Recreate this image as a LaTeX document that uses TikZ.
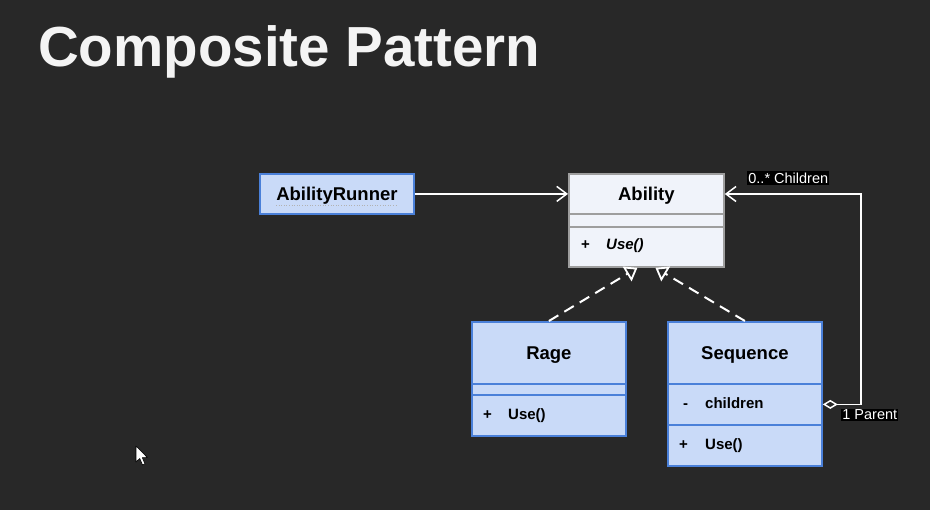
\documentclass[tikz,border=0pt]{standalone}
\usepackage{fontspec}
\setmainfont{Liberation Sans}
\usetikzlibrary{arrows.meta}
\definecolor{bg}{HTML}{282828}
\definecolor{boxfill}{HTML}{C9DAF8}
\definecolor{boxline}{HTML}{4A80D9}
\definecolor{absfill}{HTML}{F0F3FA}
\definecolor{absline}{HTML}{9E9E9E}
\definecolor{titlecol}{HTML}{F4F4F4}
\begin{document}
\begin{tikzpicture}[x=1pt,y=-1pt,
  compart/.style={rectangle,draw=boxline,fill=boxfill,line width=1.8pt,inner sep=0pt,
    anchor=north west,minimum width=154pt,text height=14pt,text depth=0pt,
    font=\fontsize{18.5}{22}\selectfont\bfseries},
  abscompart/.style={compart,draw=absline,fill=absfill},
  member/.style={anchor=base west,inner sep=0pt,font=\fontsize{15}{18}\selectfont\bfseries},
  assoc/.style={draw=white,line width=1.5pt,-{Straight Barb[length=10pt,width=15pt]}},
  realize/.style={draw=white,line width=2pt,dash pattern=on 11pt off 7pt,
    -{Triangle[open,length=12pt,width=17pt,line width=1.8pt]}},
  rolelabel/.style={fill=black,text=white,inner sep=1.2pt,font=\fontsize{14.5}{17}\selectfont}
]
\useasboundingbox[fill=bg] (0,0) rectangle (930,510);

% title
\node[anchor=base west,inner sep=0pt,text=titlecol,font=\fontsize{56.5}{64}\selectfont\bfseries]
  (title) at (38,67) {Composite Pattern};

% AbilityRunner
\node[compart,minimum width=154pt,minimum height=40pt] (runner) at (259,173) {AbilityRunner};
\draw[gray!60,line width=0.6pt,dotted] (276,205) -- (397,205);

% Ability
\node[abscompart,minimum width=155pt,minimum height=40pt] (ahead) at (568,173) {Ability};
\node[abscompart,minimum width=155pt,minimum height=13pt] (aattr) at (568,213) {};
\node[abscompart,minimum width=155pt,minimum height=40pt] (ameth) at (568,226) {};
\node[member] (aplus) at (581,250) {+};
\node[member,font=\fontsize{15}{18}\selectfont\bfseries\itshape] (ause) at (606,250) {Use()};

% Rage
\node[compart,minimum height=62pt] (rhead) at (471,321) {Rage};
\node[compart,minimum height=11pt] (rattr) at (471,383) {};
\node[compart,minimum height=41pt] (rmeth) at (471,394) {};
\node[member] (rplus) at (483,420) {+};
\node[member] (ruse) at (508,420) {Use()};

% Sequence
\node[compart,minimum height=62pt] (shead) at (667,321) {Sequence};
\node[compart,minimum height=41pt] (sattr) at (667,383) {};
\node[compart,minimum height=41pt] (smeth) at (667,424) {};
\node[member] (sminus) at (683,409) {-};
\node[member] (schildren) at (705,409) {children};
\node[member] (splus) at (679,450) {+};
\node[member] (suse) at (705,450) {Use()};

% connectors
\draw[assoc] (runner.east) -- (runner.east -| ahead.west);
\draw[realize] (rhead.north) -- ([xshift=-9pt]ameth.south);
\draw[realize] (shead.north) -- ([xshift=9pt]ameth.south);

\coordinate (corner1) at (861,404);
\coordinate (corner2) at (861,194);
\draw[draw=white,line width=1.5pt,
  {Diamond[open,length=15pt,width=9pt,line width=1.5pt]}-{Straight Barb[length=10pt,width=15pt]}]
  (sattr.east) -- (sattr.east -| corner1) -- (corner2) -- (ahead.east |- corner2);

\node[rolelabel,anchor=west] (lchildren) at (747,178) {0..* Children};
\node[rolelabel,anchor=west] (lparent) at (841,415) {1 Parent};

% mouse pointer
\draw[fill=white,draw=black,line width=0.6pt,line join=round]
  (136,446) -- (136,462) -- (139.8,458.5) -- (142.5,465) -- (145,464) -- (142.3,457.6) -- (147.5,457.6) -- cycle;
\end{tikzpicture}
\end{document}
